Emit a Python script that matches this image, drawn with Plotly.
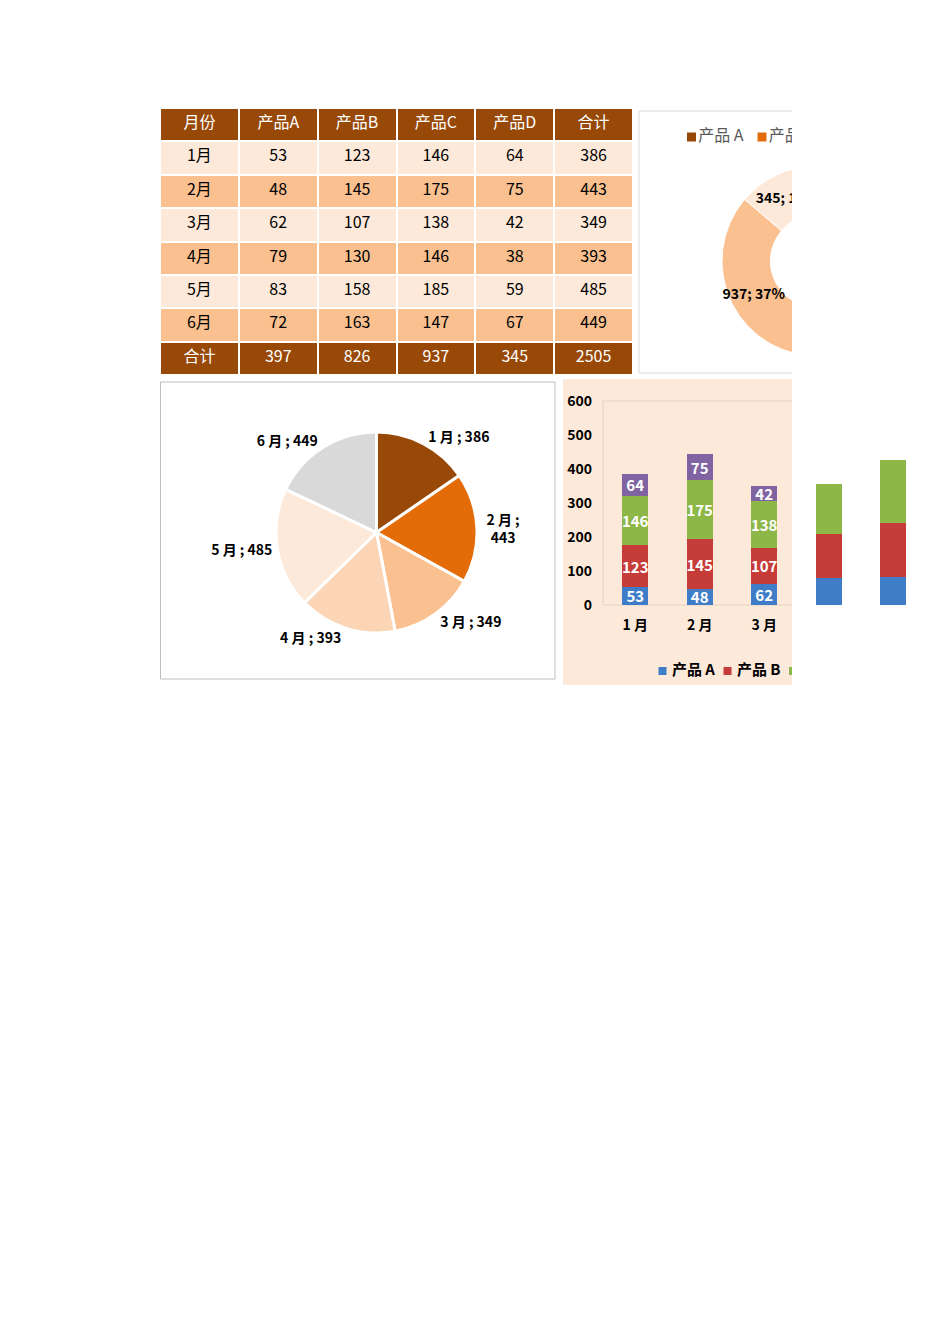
import plotly.graph_objects as go

W, H = 950, 1344
OFF = 8  # page body margin of the rendered HTML page

# ---------------- data ----------------
months = ["1月", "2月", "3月", "4月", "5月", "6月"]
header_labels = ["月份", "产品A", "产品B", "产品C", "产品D", "合计"]
total_label = "合计"
product_names = ["产品 A", "产品 B", "产品 C", "产品 D"]
prod_a = [53, 48, 62, 79, 83, 72]
prod_b = [123, 145, 107, 130, 158, 163]
prod_c = [146, 175, 138, 146, 185, 147]
prod_d = [64, 75, 42, 38, 59, 67]
y_ticks = [0, 100, 200, 300, 400, 500, 600]
visible_bars = 3  # months whose bars sit inside the (clipped) chart frame

# ---------------- styles ----------------
FONT = "Noto Sans CJK SC"
DARK = "#984807"
ORANGE = "#E36C09"
MID = "#FAC090"
PALE = "#FBD5B5"
LIGHT = "#FDE9D9"
GREY = "#D9D9D9"
BAR_COLORS = ["#3F7DC8", "#C63C38", "#8DB847", "#8064A2"]


def px(x):
    return (x - OFF) / W


def py(y):
    return 1 - (y - OFF) / H


series = [prod_a, prod_b, prod_c, prod_d]
month_tot = [sum(v) for v in zip(*series)]
prod_tot = [sum(s) for s in series]
grand = sum(month_tot)

fig = go.Figure()

# ---------------- table ----------------
col_vals = [months + [total_label]] + [s + [t] for s, t in zip(series, prod_tot)] + [month_tot + [grand]]
row_fill = [LIGHT if i % 2 == 0 else MID for i in range(len(months))] + [DARK]
row_font = ["black"] * len(months) + ["white"]
ncol = len(header_labels)
fig.add_trace(go.Table(
    domain=dict(x=[px(160), px(634)], y=[py(377), py(108)]),
    columnwidth=[1] * ncol,
    header=dict(values=header_labels, fill_color=DARK, align="center", height=33.4,
                line=dict(color="white", width=2),
                font=dict(color="white", size=16, family=FONT)),
    cells=dict(values=col_vals, fill_color=[row_fill] * ncol, align="center", height=33.4,
               line=dict(color="white", width=2),
               font=dict(color=[row_font] * ncol, size=16, family=FONT)),
))

# ---------------- pie of month totals ----------------
pie_labels = [m.replace("月", " 月") for m in months]
pie_text = [f"{l} ;{'<br>' if i == 1 else ' '}{v}" for i, (l, v) in enumerate(zip(pie_labels, month_tot))]
fig.add_trace(go.Pie(
    labels=pie_labels, values=month_tot, text=pie_text, textinfo="text",
    textposition="outside", sort=False, direction="clockwise", rotation=0,
    marker=dict(colors=[DARK, ORANGE, MID, PALE, LIGHT, GREY], line=dict(color="white", width=3)),
    textfont=dict(size=13, color="black", family=FONT, weight="bold"),
    domain=dict(x=[px(276), px(477)], y=[py(633), py(432)]),
    showlegend=False, hoverinfo="label+value",
))

# ---------------- donut of product totals ----------------
fig.add_trace(go.Pie(
    labels=product_names, values=prod_tot, hole=0.49,
    texttemplate="%{value}; %{percent:.0%}", textposition="inside",
    insidetextorientation="horizontal", sort=False, direction="clockwise", rotation=0,
    marker=dict(colors=[DARK, ORANGE, MID, LIGHT], line=dict(color="white", width=1)),
    textfont=dict(size=14, color="black", family=FONT, weight="bold"),
    domain=dict(x=[px(722), px(912)], y=[py(356), py(166)]),
    showlegend=False,
))

# ---------------- stacked bar chart ----------------
bar_labels = [m.replace("月", " 月") for m in months]
for i, (name, vals, col) in enumerate(zip(product_names, series, BAR_COLORS)):
    if i == 3:
        xs, ys = bar_labels[:visible_bars], vals[:visible_bars]
    else:
        xs, ys = bar_labels, vals
    txt = [str(v) if j < visible_bars else "" for j, v in enumerate(ys)]
    fig.add_trace(go.Bar(
        x=xs, y=ys, name=name, text=txt, textposition="inside", insidetextanchor="middle",
        textangle=0, marker=dict(color=col, line=dict(width=0)),
        textfont=dict(size=15, color="white", family=FONT, weight="bold"),
        showlegend=False, xaxis="x", yaxis="y", cliponaxis=False,
    ))

cat_w = 64.5
dom_left = 603
fig.update_layout(
    barmode="stack", bargap=0.59,
    xaxis=dict(domain=[px(dom_left), 1], range=[-0.5, (W + OFF - dom_left) / cat_w - 0.5],
               type="category", categoryorder="array", categoryarray=bar_labels,
               tickvals=bar_labels[:visible_bars], ticks="", showgrid=False, zeroline=False,
               showline=False, ticklabelstandoff=10, automargin=False,
               tickfont=dict(size=14, color="black", family=FONT, weight="bold")),
    yaxis=dict(domain=[py(605), py(401)], range=[0, 600], tickvals=y_ticks, ticks="",
               showgrid=False, zeroline=False, showline=False, ticklabelstandoff=10,
               automargin=False,
               tickfont=dict(size=14, color="black", family=FONT, weight="bold")),
)

# ---------------- donut legend (clipped at the frame edge) ----------------
fig.add_trace(go.Scatter(
    x=[691.5, 762], y=[0.5, 0.5], mode="markers+text", text=product_names[:2],
    textposition="middle right", xaxis="x2", yaxis="y2",
    marker=dict(symbol="square", size=9, color=[DARK, ORANGE]),
    textfont=dict(size=16, color="#595959", family=FONT), showlegend=False, hoverinfo="skip",
))
# ---------------- bar legend ----------------
fig.add_trace(go.Scatter(
    x=[662.5, 727.5, 793], y=[0.5, 0.5, 0.5], mode="markers+text",
    text=[" " + n for n in product_names[:3]],
    textposition="middle right", xaxis="x3", yaxis="y3",
    marker=dict(symbol="square", size=8, color=BAR_COLORS[:3]),
    textfont=dict(size=15, color="black", family=FONT, weight="bold"),
    showlegend=False, hoverinfo="skip",
))

hidden = dict(visible=False, showgrid=False, zeroline=False, fixedrange=True, automargin=False)
fig.update_layout(
    xaxis2=dict(domain=[px(640), px(792)], range=[640, 792], anchor="y2", **hidden),
    yaxis2=dict(domain=[py(148), py(126)], range=[0, 1], anchor="x2", **hidden),
    xaxis3=dict(domain=[px(563), px(792)], range=[563, 792], anchor="y3", **hidden),
    yaxis3=dict(domain=[py(682), py(660)], range=[0, 1], anchor="x3", **hidden),
)

# ---------------- frames / backgrounds ----------------
shapes = [
    dict(type="rect", xref="paper", yref="paper", x0=px(639), x1=px(900), y0=py(373), y1=py(111),
         fillcolor="white", line=dict(color=GREY, width=1), layer="below"),
    dict(type="rect", xref="paper", yref="paper", x0=px(160.5), x1=px(555), y0=py(679), y1=py(382),
         fillcolor="white", line=dict(color="#BFBFBF", width=1), layer="below"),
    dict(type="rect", xref="paper", yref="paper", x0=px(563), x1=px(792), y0=py(685), y1=py(379),
         fillcolor=LIGHT, line=dict(width=0), layer="below"),
    dict(type="line", xref="paper", yref="paper", x0=px(603), x1=px(792), y0=py(401), y1=py(401),
         line=dict(color="#E6D2C4", width=1), layer="below"),
    dict(type="line", xref="paper", yref="paper", x0=px(603), x1=px(603), y0=py(401), y1=py(605),
         line=dict(color="#E6D2C4", width=1), layer="below"),
    dict(type="line", xref="paper", yref="paper", x0=px(603), x1=px(792), y0=py(605), y1=py(605),
         line=dict(color="#E6D2C4", width=1), layer="below"),
    # white page area that clips the donut chart at its right edge
    dict(type="rect", xref="paper", yref="paper", x0=px(792), x1=1.0, y0=py(378), y1=py(100),
         fillcolor="white", line=dict(width=0), layer="above"),
]

fig.update_layout(
    width=W, height=H, margin=dict(l=0, r=0, t=0, b=0, pad=0, autoexpand=False),
    paper_bgcolor="white", plot_bgcolor="rgba(0,0,0,0)",
    shapes=shapes, showlegend=False,
    uniformtext=dict(minsize=14, mode="show"),
    font=dict(family=FONT),
)

fig.write_html("out.html")
